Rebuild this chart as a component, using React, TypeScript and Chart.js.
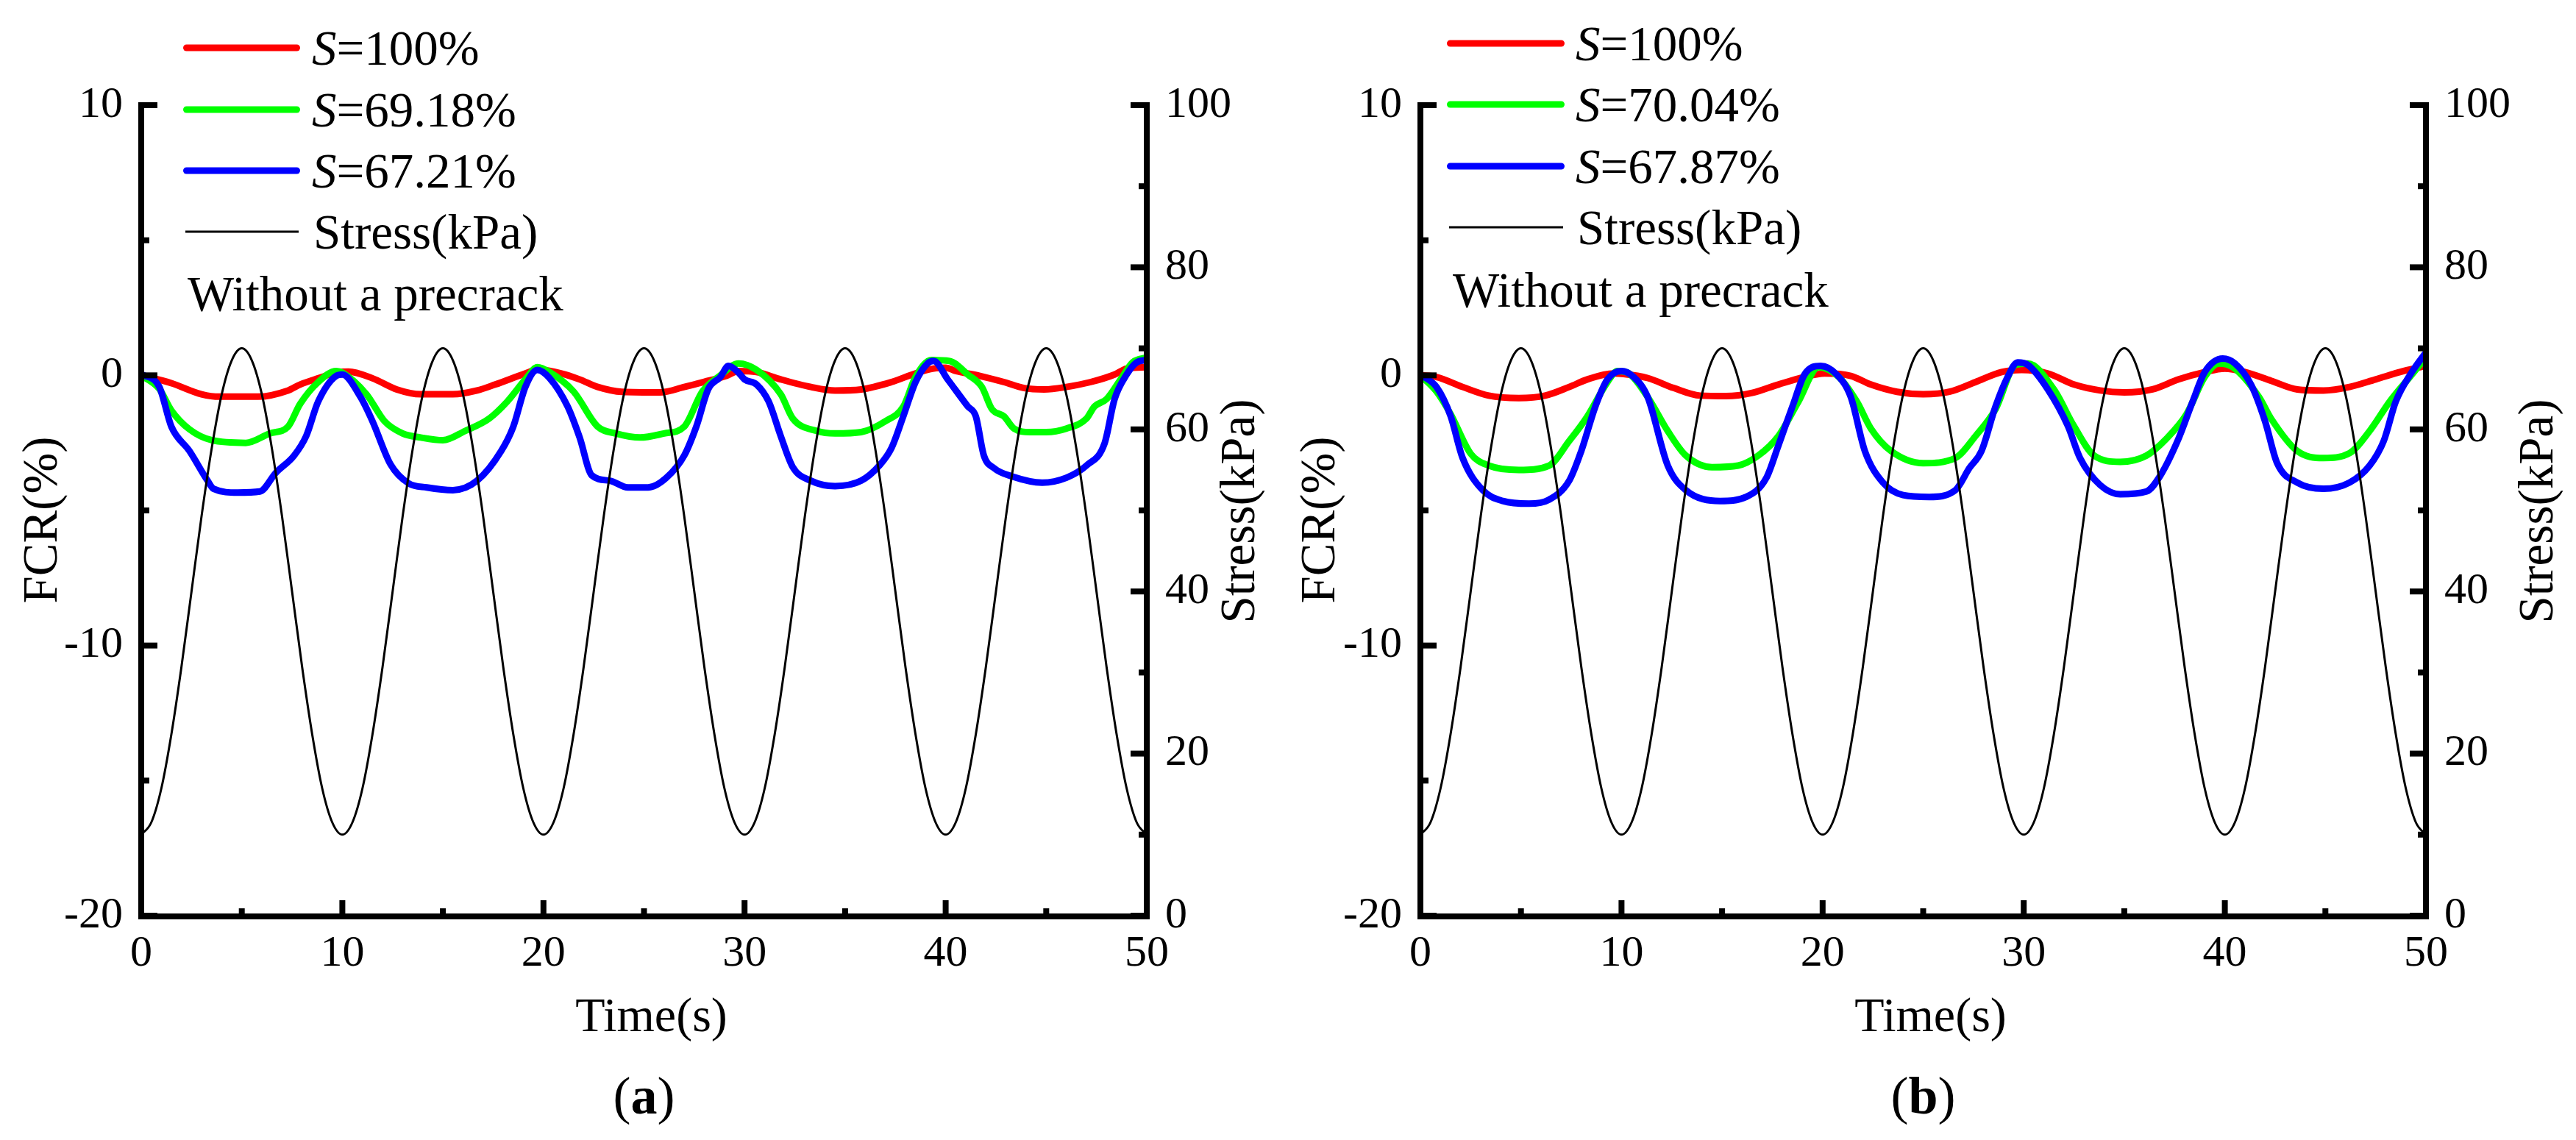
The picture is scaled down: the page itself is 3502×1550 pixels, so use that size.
import React, { useEffect, useRef } from "react";
import { Chart, registerables } from "chart.js";

Chart.register(...registerables);

const FONT = "'Liberation Serif', 'Times New Roman', serif";
Chart.defaults.font.family = FONT;
Chart.defaults.color = "#000";

// ---------- Panel (a) data ----------
const A_RED_T = [0, 1.5, 3.0, 3.9, 5.8, 7.3, 7.9, 8.8, 9.8, 10.3, 11.5, 12.7, 13.9, 15.5, 16.7, 17.6, 19.1, 19.7, 20.9, 21.8, 22.7, 23.9, 25.8, 27.0, 28.2, 29.1, 29.7, 30.6, 31.8, 33.3, 34.5, 35.8, 37.3, 38.5, 39.4, 40.0, 40.5, 41.7, 42.9, 43.9, 44.9, 46.0, 47.2, 48.4, 49.0, 50];
const A_RED_V = [0, -0.29, -0.7, -0.79, -0.79, -0.56, -0.34, -0.11, 0.12, 0.14, -0.11, -0.52, -0.7, -0.7, -0.56, -0.34, 0.07, 0.21, 0.07, -0.15, -0.43, -0.61, -0.63, -0.43, -0.2, -0.02, 0.16, 0.12, -0.15, -0.43, -0.56, -0.52, -0.25, 0.07, 0.25, 0.28, 0.16, -0.02, -0.25, -0.47, -0.52, -0.43, -0.25, 0.03, 0.25, 0.3];

const A_GREEN_T = [0, 0.9, 1.5, 2.4, 3.5, 5.2, 6.4, 7.3, 7.9, 8.8, 9.7, 10.0, 11.2, 12.1, 13.0, 13.9, 15.0, 16.1, 17.3, 18.2, 19.1, 19.7, 20.3, 21.5, 22.7, 23.6, 24.8, 26.0, 27.0, 27.9, 28.8, 29.7, 30.6, 31.8, 32.4, 33.6, 34.5, 35.8, 37.0, 37.9, 38.5, 39.3, 40.2, 41.1, 41.8, 42.3, 42.9, 43.4, 44.2, 45.0, 46.0, 47.0, 47.4, 48.0, 48.7, 49.3, 50];
const A_GREEN_V = [0, -0.5, -1.3, -2.0, -2.4, -2.5, -2.15, -1.9, -1.06, -0.25, 0.16, 0.1, -0.7, -1.7, -2.15, -2.3, -2.4, -2.06, -1.6, -0.97, -0.15, 0.3, 0.12, -0.6, -1.9, -2.15, -2.3, -2.15, -1.9, -0.6, 0, 0.44, 0.2, -0.7, -1.6, -2.06, -2.15, -2.1, -1.7, -1.15, -0.06, 0.57, 0.53, 0.03, -0.43, -1.25, -1.52, -1.97, -2.1, -2.1, -1.97, -1.6, -1.15, -0.88, -0.15, 0.48, 0.66];

const A_BLUE_T = [0, 0.9, 1.5, 2.4, 3.3, 3.6, 4.8, 5.9, 6.7, 7.6, 8.2, 8.8, 9.7, 10.0, 10.9, 11.5, 12.4, 13.3, 14.2, 15.5, 16.7, 17.9, 18.5, 19.1, 19.7, 20.3, 21.2, 21.8, 22.4, 23.3, 24.2, 25.2, 26.1, 27.0, 27.6, 28.2, 28.8, 29.2, 29.7, 30.0, 30.6, 31.2, 31.8, 32.4, 33.3, 34.5, 35.8, 36.7, 37.3, 37.9, 38.5, 39.1, 39.4, 40.1, 41.1, 41.5, 41.9, 42.4, 43.3, 44.8, 46.0, 47.0, 47.9, 48.4, 49.0, 49.5, 50];
const A_BLUE_V = [0.05, -0.43, -1.9, -2.8, -3.9, -4.2, -4.34, -4.3, -3.6, -2.97, -2.25, -0.97, -0.02, 0.03, -0.8, -1.7, -3.3, -4.0, -4.15, -4.25, -3.9, -2.8, -1.9, -0.43, 0.2, -0.1, -1.15, -2.3, -3.7, -3.9, -4.15, -4.15, -3.8, -2.97, -1.9, -0.5, -0.06, 0.35, 0.1, -0.15, -0.34, -0.97, -2.25, -3.4, -3.9, -4.1, -3.9, -3.34, -2.7, -1.5, -0.25, 0.44, 0.53, -0.15, -1.15, -1.52, -2.97, -3.43, -3.74, -3.97, -3.79, -3.34, -2.52, -0.88, 0.03, 0.48, 0.57];

// ---------- Panel (b) data ----------
const B_RED_T = [0, 0.8, 2.1, 3.4, 4.9, 6.2, 7.4, 8.3, 9.6, 10.1, 11.3, 12.6, 13.9, 15.2, 16.5, 17.8, 19.1, 20.1, 21.4, 22.4, 23.7, 25.0, 26.3, 27.6, 28.9, 29.9, 31.2, 32.5, 33.8, 35.0, 36.4, 37.7, 39.0, 40.0, 41.0, 42.3, 43.6, 44.9, 46.2, 47.5, 48.9, 50];
const B_RED_V = [0, -0.06, -0.43, -0.75, -0.84, -0.75, -0.43, -0.15, 0.07, 0.05, -0.1, -0.47, -0.75, -0.77, -0.65, -0.34, -0.06, 0.07, -0.02, -0.34, -0.61, -0.7, -0.61, -0.25, 0.12, 0.2, 0.07, -0.34, -0.56, -0.63, -0.52, -0.15, 0.12, 0.25, 0.12, -0.2, -0.52, -0.56, -0.43, -0.15, 0.16, 0.35];

const B_GREEN_T = [0, 0.8, 1.5, 2.5, 3.4, 4.9, 6.4, 7.4, 8.3, 9.3, 9.8, 10.3, 11.3, 12.3, 13.2, 14.5, 15.8, 16.8, 17.8, 18.8, 19.8, 20.8, 21.7, 22.4, 23.4, 25.0, 26.6, 27.6, 28.6, 29.6, 30.2, 31.5, 32.5, 33.5, 34.8, 36.1, 37.1, 38.1, 39.0, 39.7, 40.4, 41.7, 42.3, 43.6, 44.9, 46.2, 47.2, 48.2, 49.2, 50];
const B_GREEN_V = [0, -0.6, -1.43, -2.9, -3.34, -3.5, -3.34, -2.43, -1.52, -0.25, 0.16, 0.1, -0.8, -2.06, -2.97, -3.4, -3.34, -2.97, -2.25, -0.97, 0.3, -0.06, -0.97, -1.97, -2.8, -3.25, -3.06, -2.25, -1.25, 0.39, 0.44, -0.52, -1.88, -2.97, -3.2, -2.97, -2.34, -1.43, -0.06, 0.44, 0.3, -0.8, -1.6, -2.8, -3.06, -2.88, -2.06, -0.97, -0.06, 0.66];

const B_BLUE_T = [0, 0.8, 1.5, 2.1, 3.1, 4.1, 5.4, 6.4, 7.4, 8.0, 8.7, 9.3, 10.0, 10.6, 11.3, 12.3, 13.2, 14.9, 16.2, 17.2, 17.8, 18.5, 19.1, 19.9, 20.7, 21.4, 22.1, 23.0, 24.0, 25.3, 26.6, 27.3, 27.9, 28.6, 29.2, 29.7, 30.2, 31.2, 32.2, 32.8, 33.8, 34.8, 36.1, 36.8, 37.7, 38.4, 39.0, 39.9, 40.5, 41.3, 42.0, 42.6, 43.6, 44.9, 46.2, 47.2, 47.9, 48.5, 49.3, 50];
const B_BLUE_V = [0.03, -0.43, -1.5, -3.06, -4.25, -4.65, -4.75, -4.6, -3.9, -2.8, -1.15, -0.15, 0.16, -0.06, -0.8, -3.34, -4.25, -4.65, -4.5, -3.8, -2.6, -1.15, 0.03, 0.35, 0.03, -0.8, -2.8, -3.97, -4.43, -4.5, -4.25, -3.43, -2.8, -1.15, -0.06, 0.48, 0.39, -0.52, -1.88, -3.06, -4.06, -4.4, -4.3, -3.7, -2.34, -0.97, 0.12, 0.62, 0.44, -0.34, -1.7, -3.25, -3.97, -4.2, -3.97, -3.34, -2.43, -0.97, 0.12, 0.85];

// ---------- Stress (kPa), sampled every 0.5 s ----------
const STRESS_DT = 0.5;
const STRESS = [
  10, 11.5, 15.7, 22.4, 30.7, 40, 49.3, 57.6, 64.3, 68.5, 70, 68.5, 64.3, 57.6, 49.3, 40, 30.7, 22.4, 15.7, 11.5,
  10, 11.5, 15.7, 22.4, 30.7, 40, 49.3, 57.6, 64.3, 68.5, 70, 68.5, 64.3, 57.6, 49.3, 40, 30.7, 22.4, 15.7, 11.5,
  10, 11.5, 15.7, 22.4, 30.7, 40, 49.3, 57.6, 64.3, 68.5, 70, 68.5, 64.3, 57.6, 49.3, 40, 30.7, 22.4, 15.7, 11.5,
  10, 11.5, 15.7, 22.4, 30.7, 40, 49.3, 57.6, 64.3, 68.5, 70, 68.5, 64.3, 57.6, 49.3, 40, 30.7, 22.4, 15.7, 11.5,
  10, 11.5, 15.7, 22.4, 30.7, 40, 49.3, 57.6, 64.3, 68.5, 70, 68.5, 64.3, 57.6, 49.3, 40, 30.7, 22.4, 15.7, 11.5,
  10,
];

// ---------- Axis ticks ----------
const X_MAJOR = [0, 10, 20, 30, 40, 50];
const X_MINOR = [5, 15, 25, 35, 45];
const FCR_MAJOR = [-20, -10, 0, 10];
const FCR_MINOR = [-15, -5, 5];
const STRESS_MAJOR = [0, 20, 40, 60, 80, 100];
const STRESS_MINOR = [10, 30, 50, 70, 90];

const LEGEND_A = ["100%", "69.18%", "67.21%"];
const LEGEND_B = ["100%", "70.04%", "67.87%"];
const COLORS = ["#ff0000", "#00ff00", "#0000ff"];

const CANVAS_W = 1751;
const CANVAS_H = 1550;

type Panel = {
  key: string;
  caption: string;
  red: [number[], number[]];
  green: [number[], number[]];
  blue: [number[], number[]];
  legend: string[];
  leftW: number;
  rightW: number;
  legLineX0: number;
  legLineX1: number;
  legTextX: number;
  legY: number[];
  noteX: number;
  noteY: number;
  fcrTitleX: number;
  stressTitleX: number;
};

const PANELS: Panel[] = [
  {
    key: "a",
    caption: "a",
    red: [A_RED_T, A_RED_V],
    green: [A_GREEN_T, A_GREEN_V],
    blue: [A_BLUE_T, A_BLUE_V],
    legend: LEGEND_A,
    leftW: 192,
    rightW: 192,
    legLineX0: 249,
    legLineX1: 408,
    legTextX: 424,
    legY: [65, 149, 232, 315],
    noteX: 255,
    noteY: 422,
    fcrTitleX: 77,
    stressTitleX: 1705,
  },
  {
    key: "b",
    caption: "b",
    red: [B_RED_T, B_RED_V],
    green: [B_GREEN_T, B_GREEN_V],
    blue: [B_BLUE_T, B_BLUE_V],
    legend: LEGEND_B,
    leftW: 180,
    rightW: 204,
    legLineX0: 216,
    legLineX1: 376,
    legTextX: 391,
    legY: [59, 142, 226, 309],
    noteX: 224,
    noteY: 417,
    fcrTitleX: 63,
    stressTitleX: 1719,
  },
];

function pts(t: number[], v: number[]) {
  return t.map((x, i) => ({ x, y: v[i] }));
}

function makeDecor(p: Panel) {
  return {
    id: "decor_" + p.key,
    afterDatasetsDraw(chart: any) {
      const ctx: CanvasRenderingContext2D = chart.ctx;
      const { left, right, top, bottom } = chart.chartArea;
      const xs = chart.scales.x;
      const yl = chart.scales.yL;
      const yr = chart.scales.yR;
      const W = 8;
      ctx.save();
      ctx.fillStyle = "#000";
      // axis lines
      ctx.fillRect(left - W / 2, top - W / 2, W, bottom - top + W + 1);
      ctx.fillRect(right - W / 2, top - W / 2, W, bottom - top + W + 1);
      ctx.fillRect(left - W / 2, bottom - W / 2 + 1, right - left + W, W);
      // x ticks (inward)
      const xTop = bottom - W / 2 + 1;
      X_MAJOR.forEach((v) => {
        const px = xs.getPixelForValue(v);
        ctx.fillRect(px - W / 2, xTop - 18, W, 18);
      });
      X_MINOR.forEach((v) => {
        const px = xs.getPixelForValue(v);
        ctx.fillRect(px - W / 2, xTop - 7, W, 7);
      });
      // left ticks
      FCR_MAJOR.forEach((v) => {
        const py = yl.getPixelForValue(v);
        ctx.fillRect(left + W / 2, py - W / 2, 18, W);
      });
      FCR_MINOR.forEach((v) => {
        const py = yl.getPixelForValue(v);
        ctx.fillRect(left + W / 2, py - W / 2, 7, W);
      });
      // right ticks
      STRESS_MAJOR.forEach((v) => {
        const py = yr.getPixelForValue(v);
        ctx.fillRect(right - W / 2 - 18, py - W / 2, 18, W);
      });
      STRESS_MINOR.forEach((v) => {
        const py = yr.getPixelForValue(v);
        ctx.fillRect(right - W / 2 - 7, py - W / 2, 7, W);
      });
      ctx.restore();
    },
    afterDraw(chart: any) {
      const ctx: CanvasRenderingContext2D = chart.ctx;
      const { left, right } = chart.chartArea;
      ctx.save();
      ctx.fillStyle = "#000";
      ctx.textBaseline = "alphabetic";
      ctx.textAlign = "left";

      // legend
      const legFs = 67;
      for (let i = 0; i < 4; i++) {
        const y = p.legY[i];
        ctx.beginPath();
        if (i < 3) {
          ctx.strokeStyle = COLORS[i];
          ctx.lineWidth = 9;
          ctx.lineCap = "round";
          ctx.moveTo(p.legLineX0 + 4.5, y);
          ctx.lineTo(p.legLineX1 - 4.5, y);
        } else {
          ctx.strokeStyle = "#000";
          ctx.lineWidth = 3;
          ctx.lineCap = "butt";
          ctx.moveTo(p.legLineX0 + 3, y);
          ctx.lineTo(p.legLineX1 - 2, y);
        }
        ctx.stroke();
        const by = y + 23;
        if (i < 3) {
          ctx.font = `italic ${legFs}px ${FONT}`;
          ctx.fillText("S", p.legTextX, by);
          const w = ctx.measureText("S").width;
          ctx.font = `${legFs}px ${FONT}`;
          ctx.fillText("=" + p.legend[i], p.legTextX + w, by);
        } else {
          ctx.font = `${legFs}px ${FONT}`;
          ctx.fillText("Stress(kPa)", p.legTextX + 2, by);
        }
      }
      ctx.font = `${legFs}px ${FONT}`;
      ctx.fillText("Without a precrack", p.noteX, p.noteY);

      // x title
      const cx = (left + right) / 2;
      ctx.font = `66px ${FONT}`;
      ctx.textAlign = "center";
      ctx.fillText("Time(s)", cx + 10, 1402);

      // y titles (rotated, reading bottom-to-top)
      ctx.font = `67px ${FONT}`;
      ctx.save();
      ctx.translate(p.fcrTitleX, 707);
      ctx.rotate(-Math.PI / 2);
      ctx.fillText("FCR(%)", 0, 0);
      ctx.restore();
      ctx.save();
      ctx.translate(p.stressTitleX, 695);
      ctx.rotate(-Math.PI / 2);
      ctx.fillText("Stress(kPa)", 0, 0);
      ctx.restore();

      // caption
      ctx.textAlign = "left";
      const capFs = 72;
      ctx.font = `${capFs}px ${FONT}`;
      const wL = ctx.measureText("(").width;
      const wR = ctx.measureText(")").width;
      ctx.font = `bold ${capFs}px ${FONT}`;
      const wM = ctx.measureText(p.caption).width;
      let sx = cx - (wL + wM + wR) / 2;
      ctx.font = `${capFs}px ${FONT}`;
      ctx.fillText("(", sx, 1514);
      sx += wL;
      ctx.font = `bold ${capFs}px ${FONT}`;
      ctx.fillText(p.caption, sx, 1514);
      sx += wM;
      ctx.font = `${capFs}px ${FONT}`;
      ctx.fillText(")", sx, 1514);
      ctx.restore();
    },
  };
}

function PanelChart({ p, offsetX }: { p: Panel; offsetX: number }) {
  const ref = useRef<HTMLCanvasElement | null>(null);
  useEffect(() => {
    if (!ref.current) return;
    const tickFont = { family: FONT, size: 60, lineHeight: 1.2, style: "normal", weight: "normal" };
    const stressPts = STRESS.map((v, i) => ({ x: i * STRESS_DT, y: v }));
    const line = (data: any, color: string, width: number, axis: string) => ({
      data,
      yAxisID: axis,
      borderColor: color,
      borderWidth: width,
      pointRadius: 0,
      cubicInterpolationMode: "monotone",
      borderJoinStyle: "round",
      borderCapStyle: "round",
      fill: false,
    });
    const chart = new Chart(ref.current, {
      type: "line",
      data: {
        datasets: [
          { label: "Stress(kPa)", ...line(stressPts, "#000", 3, "yR") },
          { label: "S=" + p.legend[2], ...line(pts(p.blue[0], p.blue[1]), COLORS[2], 9, "yL") },
          { label: "S=" + p.legend[1], ...line(pts(p.green[0], p.green[1]), COLORS[1], 9, "yL") },
          { label: "S=" + p.legend[0], ...line(pts(p.red[0], p.red[1]), COLORS[0], 9, "yL") },
        ],
      } as any,
      options: {
        animation: false,
        responsive: false,
        devicePixelRatio: 1,
        parsing: false as any,
        normalized: true,
        font: { family: FONT },
        layout: { padding: { top: 143, left: 0, right: 0, bottom: 0 } },
        plugins: {
          legend: { display: false },
          tooltip: { enabled: false },
          title: { display: false },
        },
        scales: {
          x: {
            type: "linear",
            min: 0,
            max: 50,
            ticks: {
              stepSize: 10,
              color: "#000",
              font: tickFont,
              padding: 16,
              maxRotation: 0,
              autoSkip: false,
            },
            grid: { display: false, drawTicks: false },
            border: { display: false },
            afterFit: (s: any) => {
              s.height = 305;
            },
          },
          yL: {
            type: "linear",
            position: "left",
            min: -20,
            max: 10,
            ticks: { stepSize: 10, color: "#000", font: tickFont, padding: 25 },
            grid: { display: false, drawTicks: false },
            border: { display: false },
            afterFit: (s: any) => {
              s.width = p.leftW;
            },
          },
          yR: {
            type: "linear",
            position: "right",
            min: 0,
            max: 100,
            ticks: { stepSize: 20, color: "#000", font: tickFont, padding: 25 },
            grid: { display: false, drawTicks: false },
            border: { display: false },
            afterFit: (s: any) => {
              s.width = p.rightW;
            },
          },
        },
      } as any,
      plugins: [makeDecor(p)],
    });
    return () => chart.destroy();
  }, [p]);
  return (
    <canvas
      ref={ref}
      width={CANVAS_W}
      height={CANVAS_H}
      style={{
        position: "absolute",
        left: offsetX,
        top: 0,
        width: CANVAS_W,
        height: CANVAS_H,
        display: "block",
      }}
    />
  );
}

export default function App() {
  return (
    <div
      style={{
        position: "absolute",
        left: 0,
        top: 0,
        width: 3502,
        height: 1550,
        background: "#fff",
        overflow: "hidden",
      }}
    >
      <PanelChart p={PANELS[0]} offsetX={0} />
      <PanelChart p={PANELS[1]} offsetX={CANVAS_W} />
    </div>
  );
}
